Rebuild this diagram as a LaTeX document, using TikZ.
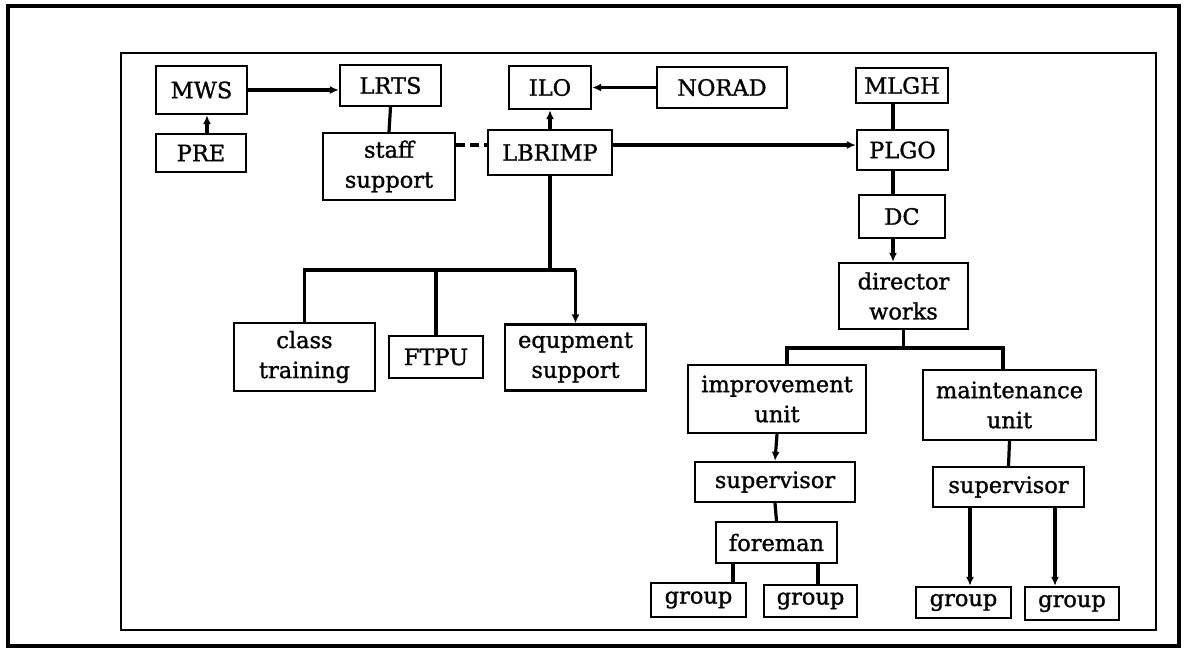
\documentclass[tikz,border=0pt]{standalone}
\usepackage{fontspec}
\setmainfont{DejaVu Serif}[FakeBold=1.2]
\usetikzlibrary{arrows.meta}
\begin{document}
\begin{tikzpicture}[x=1pt,y=-1pt,
  box/.style={draw,line width=2.3pt,inner sep=0pt,align=center,
    font=\fontsize{22.5}{30}\selectfont},
  link/.style={line width=3.2pt},
  tip/.style={link,-{Latex[length=9pt,width=8pt]}},
  frame/.style={line width=4pt},
  inframe/.style={line width=2.6pt}]
\useasboundingbox (0,0) rectangle (1188,657);
% frames
\draw[frame] (8,6) rectangle (1179,646);
\draw[inframe] (121,53) rectangle (1156,630);
% top row
\node[box,minimum width=91pt,minimum height=48pt] (mws) at (201.5,90) {MWS};
\node[box,minimum width=90pt,minimum height=38pt] (pre) at (201,153) {PRE};
\node[box,minimum width=101pt,minimum height=41pt] (lrts) at (390.5,85.5) {LRTS};
\node[box,minimum width=132pt,minimum height=67pt] (staff) at (389,166.5) {staff\\support};
\node[box,minimum width=124pt,minimum height=45pt] (lbr) at (550,152.5) {LBRIMP};
\node[box,minimum width=82pt,minimum height=43pt] (ilo) at (550,87.5) {ILO};
\node[box,minimum width=130pt,minimum height=41pt] (norad) at (722,87.5) {NORAD};
\node[box,minimum width=92pt,minimum height=35pt] (mlgh) at (902,85.5) {MLGH};
\node[box,minimum width=91pt,minimum height=40pt] (plgo) at (902.5,150) {PLGO};
\node[box,minimum width=86pt,minimum height=43pt] (dc) at (902,216.5) {DC};
\node[box,minimum width=129pt,minimum height=66pt] (dw) at (903.5,296) {director\\works};
% training branch
\node[box,minimum width=141pt,minimum height=68pt] (ct) at (304.5,357) {class\\training};
\node[box,minimum width=94pt,minimum height=42pt] (ftpu) at (436,357) {FTPU};
\node[box,minimum width=141pt,minimum height=66pt] (eq) at (575.5,357.5) {equpment\\support};
% works branch
\node[box,minimum width=178pt,minimum height=68pt] (iu) at (777,399) {improvement\\unit};
\node[box,minimum width=173pt,minimum height=70pt] (mu) at (1009.5,405) {maintenance\\unit};
\node[box,minimum width=160pt,minimum height=40pt] (supl) at (775,482) {supervisor};
\node[box,minimum width=151pt,minimum height=40pt] (supr) at (1008.5,487) {supervisor};
\node[box,minimum width=121pt,minimum height=41pt] (fore) at (776.5,542.5) {foreman};
\node[box,minimum width=95pt,minimum height=34pt] (g1) at (698.5,600) {group};
\node[box,minimum width=93pt,minimum height=32pt] (g2) at (810.5,601) {group};
\node[box,minimum width=95pt,minimum height=31pt] (g3) at (963.5,602.5) {group};
\node[box,minimum width=94pt,minimum height=33pt] (g4) at (1072,603.5) {group};
% helper coordinates for connector routes
\coordinate (h1) at (0,145);
\coordinate (vpre) at (207,0);
\coordinate (vp) at (893,0);
\coordinate (bus1) at (0,270);
\coordinate (bl) at (787,348);
\coordinate (br) at (1003,348);
\coordinate (c1) at (733,0);
\coordinate (c2) at (818,0);
\coordinate (c3) at (970,0);
\coordinate (c4) at (1055,0);
% connectors
\draw[tip] (mws.east) -- (mws.east -| lrts.west);
\draw[tip] (pre.north -| vpre) -- (mws.south -| vpre);
\draw[link] (lrts.south) -- (staff.north);
\draw[link,dash pattern=on 9pt off 5pt] (staff.east |- h1) -- (lbr.west |- h1);
\draw[tip] (norad.west) -- (ilo.east);
\draw[tip] (lbr.north) -- (ilo.south);
\draw[tip] (lbr.east |- h1) -- (plgo.west |- h1);
\draw[link] (plgo.north -| vp) -- (mlgh.south -| vp);
\draw[link] (dc.north -| vp) -- (plgo.south -| vp);
\draw[tip] (dc.south -| vp) -- (dw.north -| vp);
\draw[link] (lbr.south) -- (lbr.south |- bus1);
\draw[link] (ct.north) -- (ct.north |- bus1) -- (eq.north |- bus1);
\draw[tip] (eq.north |- bus1) -- (eq.north);
\draw[link] (ftpu.north |- bus1) -- (ftpu.north);
\draw[link] (dw.south) -- (dw.south |- bl);
\draw[link] (iu.north -| bl) -- (bl) -- (br) -- (br |- mu.north);
\draw[tip] (iu.south) -- (supl.north);
\draw[link] (supl.south) -- (fore.north);
\draw[link] (fore.south -| c1) -- (g1.north -| c1);
\draw[link] (fore.south -| c2) -- (g2.north -| c2);
\draw[link] (mu.south) -- (supr.north);
\draw[tip] (supr.south -| c3) -- (g3.north -| c3);
\draw[tip] (supr.south -| c4) -- (g4.north -| c4);
\end{tikzpicture}
\end{document}
